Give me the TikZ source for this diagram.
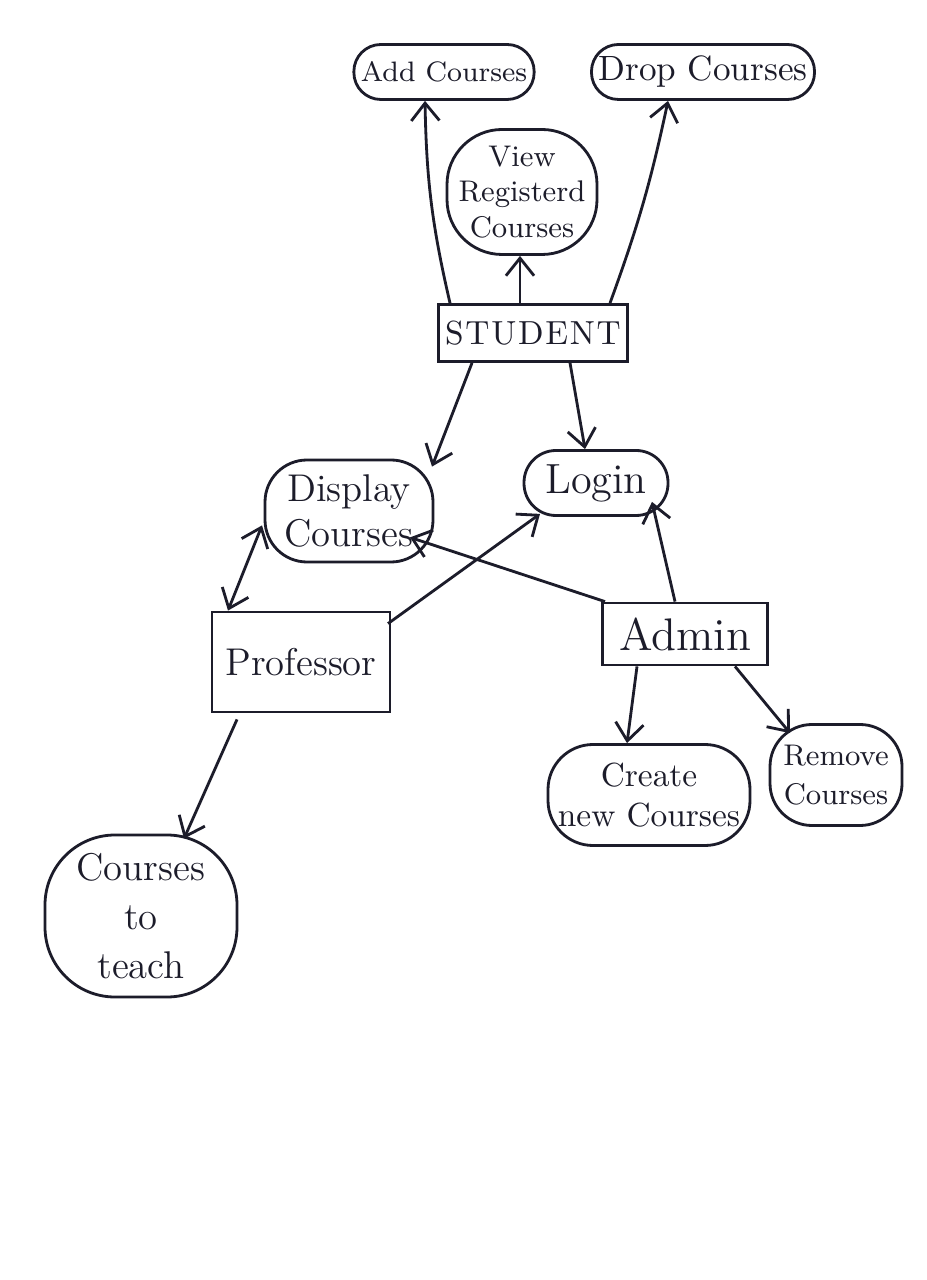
\documentclass[tikz,border=0pt]{standalone}
\usetikzlibrary{arrows.meta}
\begin{document}
\begin{tikzpicture}[
  ink/.style={draw=inkc, line width=0.8pt},
  blob/.style={ink, rectangle, align=center, inner sep=2pt, text=inkc},
  boxnode/.style={ink, rectangle, align=center, inner sep=2pt, text=inkc},
  conn/.style={ink, -{Straight Barb[length=5pt,width=8pt]}},
  conn2/.style={ink, {Straight Barb[length=5pt,width=8pt]}-{Straight Barb[length=5pt,width=8pt]}},
  fs/.style 2 args={font=\fontsize{#1}{#2}\selectfont}
]
\definecolor{inkc}{HTML}{1C1C2A}
\useasboundingbox[fill=white] (0,0) rectangle (9.26,-12.80);

% nodes
\node[blob, rounded corners=0.27cm, minimum width=1.68cm, minimum height=0.55cm, fs={8}{9.5}] (add) at (4.44,-0.72) {Add Courses};
\node[blob, rounded corners=0.27cm, minimum width=2.23cm, minimum height=0.55cm, fs={10}{12}] (drop) at (7.03,-0.72) {Drop Courses};
\node[blob, rounded corners=0.55cm, minimum width=1.50cm, minimum height=1.25cm, fs={8.5}{10}] (view) at (5.22,-1.92) {View\\Registerd\\Courses};
\node[boxnode, minimum width=1.87cm, minimum height=0.57cm, fs={9.5}{11}] (student) at (5.33,-3.33) {S\kern0.5ptT\kern0.5ptU\kern0.5ptD\kern0.5ptE\kern0.5ptN\kern0.5ptT};
\node[blob, rounded corners=0.42cm, minimum width=1.68cm, minimum height=1.02cm, fs={11}{13}] (display) at (3.49,-5.11) {Display\\Courses};
\node[blob, rounded corners=0.32cm, minimum width=1.44cm, minimum height=0.65cm, fs={12}{14}] (login) at (5.96,-4.83) {Login};
\node[boxnode, minimum width=1.78cm, minimum height=1.00cm, fs={11}{13}] (prof) at (3.01,-6.62) {Professor};
\node[boxnode, minimum width=1.65cm, minimum height=0.62cm, fs={13}{15}] (admin) at (6.85,-6.34) {Admin};
\node[blob, rounded corners=0.45cm, minimum width=2.02cm, minimum height=1.01cm, fs={9.5}{11.5}] (create) at (6.49,-7.95) {Create\\new Courses};
\node[blob, rounded corners=0.42cm, minimum width=1.32cm, minimum height=1.01cm, fs={8.5}{11}] (remove) at (8.36,-7.75) {Remove\\Courses};
\node[blob, rounded corners=0.7cm, minimum width=1.92cm, minimum height=1.62cm, fs={11}{14}] (teach) at (1.41,-9.16) {Courses\\to\\teach};

% connectors
\draw[conn] ([xshift=-0.83cm]student.north) to[bend left=6] ([xshift=-0.19cm]add.south);
\draw[conn] ([xshift=-0.13cm]student.north) -- ([xshift=-0.02cm]view.south);
\draw[conn] ([xshift=0.77cm]student.north) to[bend right=4] ([xshift=-0.35cm]drop.south);
\draw[conn] ([xshift=-0.61cm]student.south) -- ([xshift=0.83cm,yshift=-0.08cm]display.north);
\draw[conn] ([xshift=0.37cm]student.south) -- ([xshift=-0.11cm]login.north);
\draw[conn2] ([xshift=-0.73cm]prof.north) -- ([xshift=-0.87cm,yshift=0.38cm]display.south);
\draw[conn] ([xshift=0.87cm,yshift=-0.13cm]prof.north) -- ([xshift=-0.56cm,yshift=0.03cm]login.south);
\draw[conn] ([xshift=-0.80cm]admin.north) -- ([xshift=0.61cm,yshift=0.26cm]display.south);
\draw[conn] ([xshift=-0.10cm]admin.north) -- ([xshift=0.56cm,yshift=0.15cm]login.south);
\draw[conn] ([xshift=-0.48cm]admin.south) -- ([xshift=-0.22cm]create.north);
\draw[conn] ([xshift=0.50cm]admin.south) -- ([xshift=-0.46cm,yshift=-0.1cm]remove.north);
\draw[conn] ([xshift=-0.64cm,yshift=-0.06cm]prof.south) -- ([xshift=0.43cm,yshift=-0.05cm]teach.north);
\end{tikzpicture}
\end{document}
